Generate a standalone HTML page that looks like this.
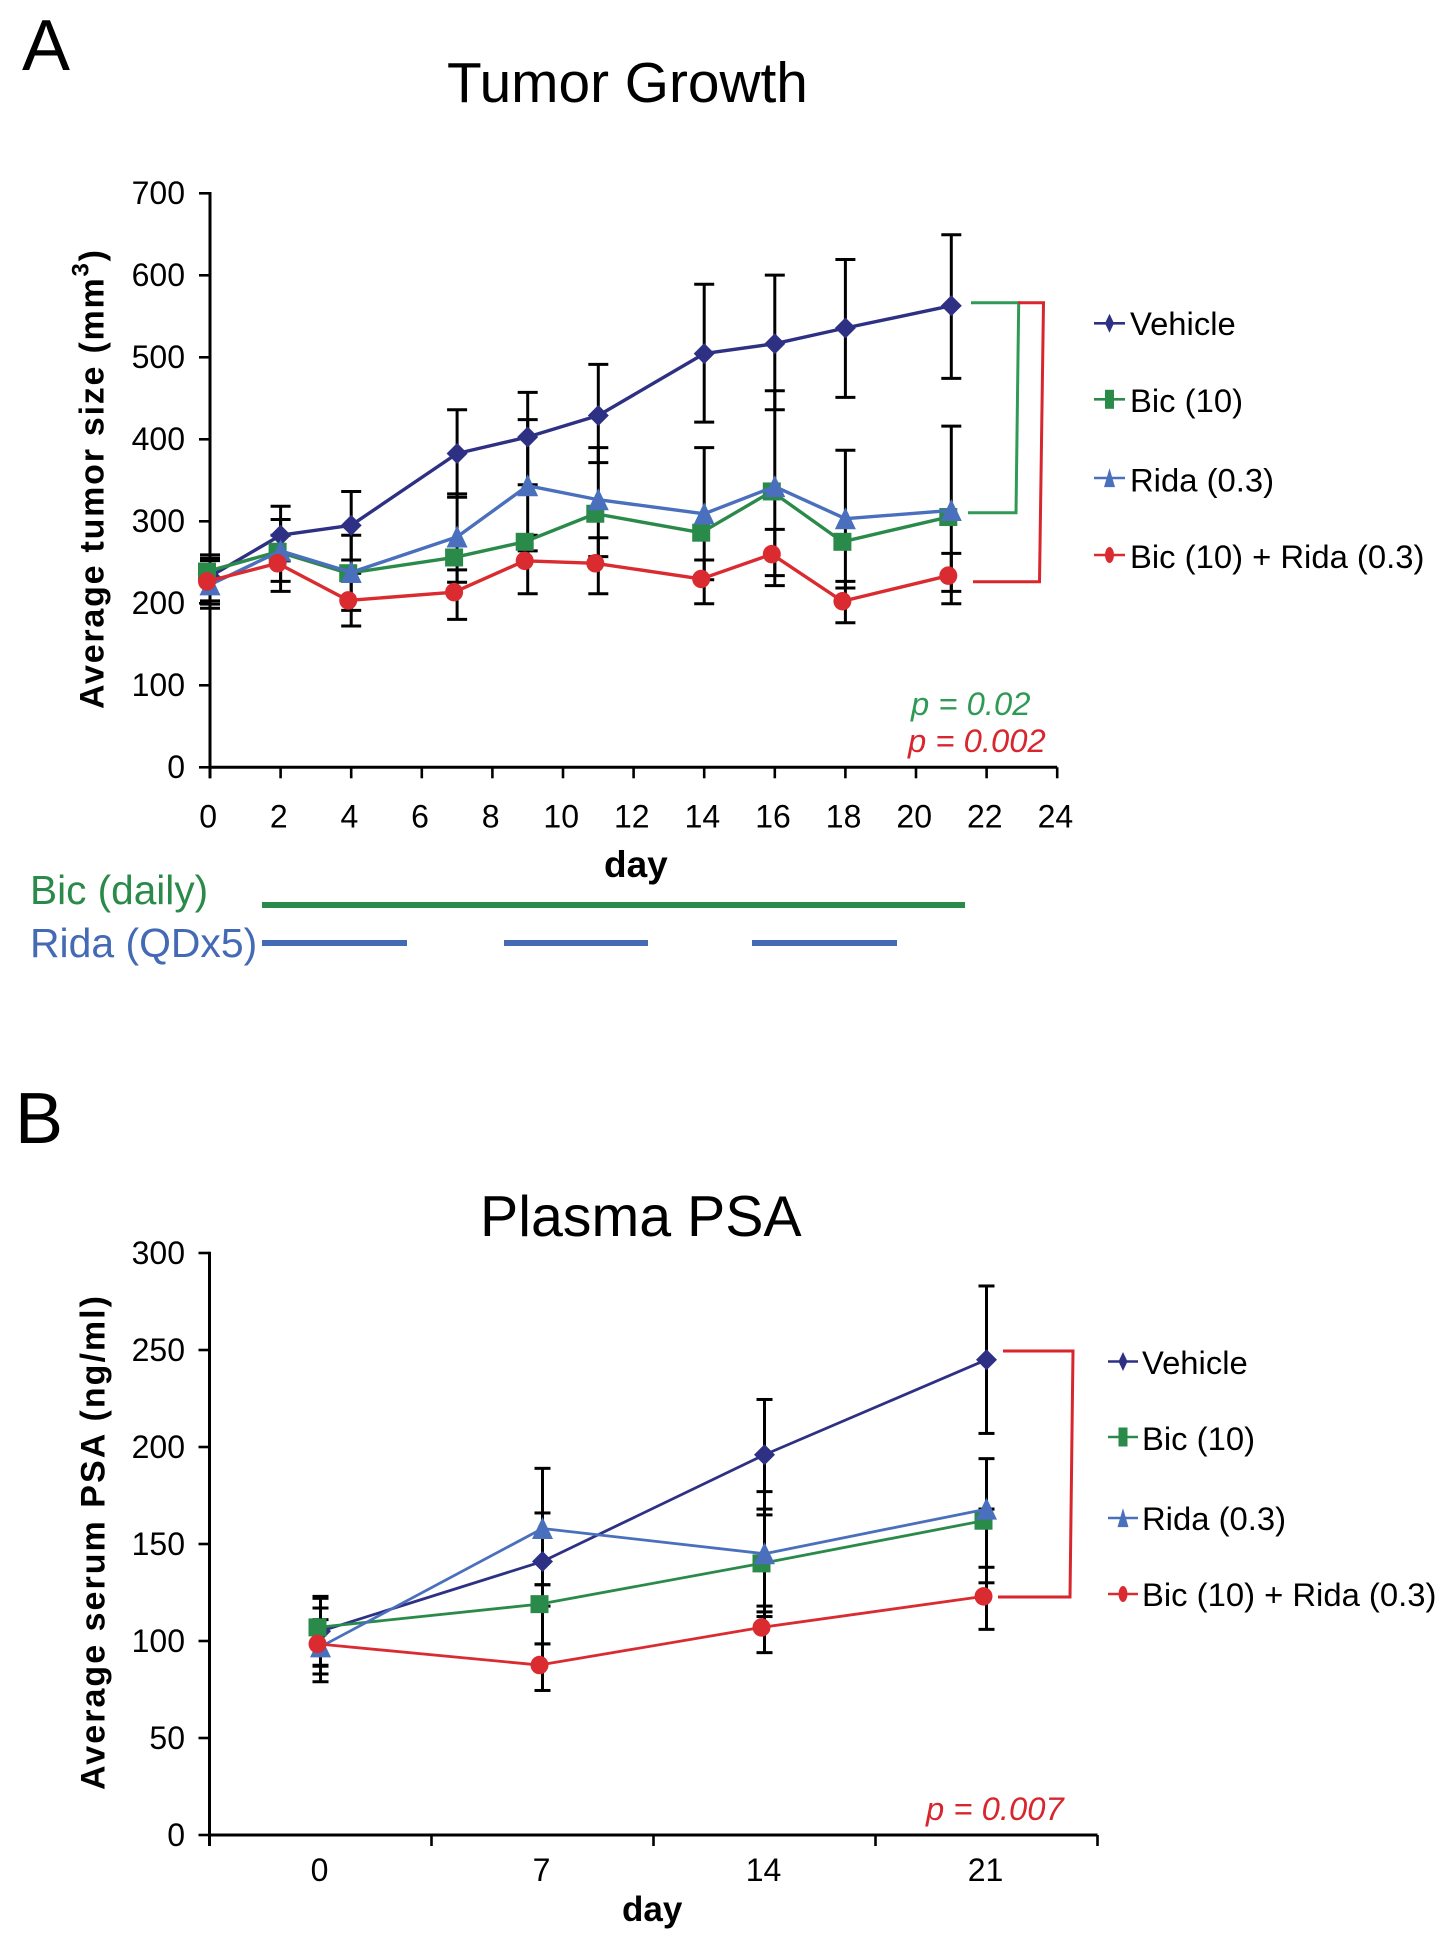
<!DOCTYPE html>
<html lang="en">
<head>
<meta charset="utf-8">
<title>Tumor Growth and Plasma PSA</title>
<style>
html,body{margin:0;padding:0;background:#fff;width:1453px;height:1948px;overflow:hidden}
svg{display:block}
text{font-family:"Liberation Sans",Arial,sans-serif;fill:#000}
</style>
</head>
<body>
<svg id="figure" xmlns="http://www.w3.org/2000/svg" width="1453" height="1948" viewBox="0 0 1453 1948">
  <rect width="1453" height="1948" fill="#fff"/>

  <text x="22" y="70" font-size="72">A</text>
  <text x="447" y="102" font-size="56.8">Tumor Growth</text>
  <text transform="translate(103.5,709) rotate(-90)" font-size="34" font-weight="bold" textLength="459" lengthAdjust="spacing">Average tumor size (mm<tspan dy="-15" font-size="24">3</tspan><tspan dy="15">)</tspan></text>
  <text x="604" y="877" font-size="37" font-weight="bold">day</text>
  <text x="911" y="715" font-size="32.8" font-style="italic" style="fill:#2f9a55">p = 0.02</text>
  <text x="908" y="752" font-size="32.8" font-style="italic" style="fill:#d8262e">p = 0.002</text>

  <polyline points="971,302.7 1018.7,302.7 1016,512.7 968,512.7" fill="none" stroke="#2f9a55" stroke-width="3"/>
  <polyline points="1018,302.7 1043.5,302.7 1039.5,581.7 973,581.7" fill="none" stroke="#d8262e" stroke-width="3"/>

  <text x="30" y="904" font-size="40.6" style="fill:#2a8a4a">Bic (daily)</text>
  <text x="30" y="957" font-size="40.9" style="fill:#4469b5">Rida (QDx5)</text>
  <rect x="262" y="902" width="703" height="6" fill="#2a8a4a"/>
  <rect x="262" y="940" width="145" height="6" fill="#4469b5"/>
  <rect x="504" y="940" width="144" height="6" fill="#4469b5"/>
  <rect x="752" y="940" width="145" height="6" fill="#4469b5"/>

  <text x="15" y="1143" font-size="72">B</text>
  <text x="480" y="1236" font-size="57.3">Plasma PSA</text>
  <text transform="translate(104.5,1790) rotate(-90)" font-size="34" font-weight="bold" textLength="494" lengthAdjust="spacing">Average serum PSA (ng/ml)</text>
  <text x="622" y="1921" font-size="35" font-weight="bold">day</text>
  <text x="926" y="1820" font-size="32.8" font-style="italic" style="fill:#d8262e">p = 0.007</text>
  <polyline points="1003,1351 1073,1351 1070,1597 998,1597" fill="none" stroke="#d8262e" stroke-width="3"/>

  <g id="chart-a"></g>
  <g id="chart-b"></g>
</svg>

<script>
// ---------- Panel A: tumor growth ----------
const tumorDays = [0, 2, 4, 7, 9, 11, 14, 16, 18, 21];
const tumorXTicks = [0, 2, 4, 6, 8, 10, 12, 14, 16, 18, 20, 22, 24];
const tumorYTicks = [0, 100, 200, 300, 400, 500, 600, 700];

const tumorVehicle = [232.7, 283, 295.1, 382.7, 402.8, 429, 504.5, 516.6, 535.7, 562.9];
const tumorBic = [238.7, 262.9, 236.7, 255.9, 275, 309.2, 286.1, 336.4, 275, 305.2];
const tumorRida = [222.6, 263.9, 237.7, 281, 343.4, 326.3, 309.2, 342.4, 303.2, 313.2];
const tumorCombo = [226.7, 248.8, 203.5, 213.6, 251.8, 248.8, 229.7, 259.9, 202.5, 233.7];

const tumorVehicleHigh = [259, 318.3, 336.4, 436, 457.2, 491.4, 589.1, 600.2, 619.3, 649.5];
const tumorVehicleLow = [203, 251.8, 252.8, 329.4, 344.5, 371.6, 421, 436, 451.2, 474.3];
const tumorRidaHigh = [255, 302.2, 283, 333.4, 424, 389.8, 389.8, 459.2, 386.7, 416];
const tumorRidaLow = [194, 226.7, 191.4, 225.7, 263.9, 256.9, 228.7, 221.6, 218.6, 214.6];
const tumorComboHigh = [252, 283, 236.7, 240.8, 283, 280, 252.8, 290.1, 226.7, 260.9];
const tumorComboLow = [199, 214.6, 172.3, 180.4, 211.6, 211.6, 199.5, 233.7, 176.3, 199.5];

// ---------- Panel B: plasma PSA ----------
const psaDays = ["0", "7", "14", "21"];
const psaYTicks = [0, 50, 100, 150, 200, 250, 300];

const psaVehicle = [105, 141, 196, 245];
const psaBic = [107, 119, 140, 162];
const psaRida = [97, 158, 145, 168];
const psaCombo = [98.5, 87.6, 107, 123];

const psaVehicleHigh = [123, 166, 224.5, 283];
const psaVehicleLow = [87, 118, 168, 207];
const psaBicHigh = [122, 129, 165, 194];
const psaBicLow = [87.5, 98.5, 115, 130];
const psaRidaHigh = [117, 189, 177, 168];
const psaRidaLow = [83, 129, 112.6, 168];
const psaComboHigh = [111, 98.5, 118, 138];
const psaComboLow = [79, 74.5, 94, 106];

// ---------- Series names ----------
const seriesLabels = ["Vehicle", "Bic (10)", "Rida (0.3)", "Bic (10) + Rida (0.3)"];

const NS = "http://www.w3.org/2000/svg";
const colors = { vehicle: "#2e3084", bic: "#2a8a4a", rida: "#4a6fbc", combo: "#d92b30" };
const shapes = { vehicle: "diamond", bic: "square", rida: "triangle", combo: "circle" };
const xShift = { vehicle: 0, bic: -3, rida: 0, combo: -3 };
const seriesKeys = ["vehicle", "bic", "rida", "combo"];

function make(parent, tag, attrs) {
  const node = document.createElementNS(NS, tag);
  Object.keys(attrs).forEach(function (k) { node.setAttribute(k, attrs[k]); });
  parent.appendChild(node);
  return node;
}

// axis functions
function tumorX(day) { return 210 + day * 35.3; }
function tumorY(value) { return 767.3 - value * 0.82; }
function psaBoundaryX(i) { return 209.5 + i * 222; }
function psaX(i) { return psaBoundaryX(i + 0.5); }
function psaY(value) { return 1835 - value * 1.94; }

function drawMarker(parent, key, cx, cy, sw, sh) {
  const fill = colors[key];
  let m;
  if (shapes[key] === "diamond") {
    m = make(parent, "polygon", { points: [cx, cy - sh / 2, cx + sw / 2, cy, cx, cy + sh / 2, cx - sw / 2, cy].join(" "), fill: fill });
  } else if (shapes[key] === "square") {
    m = make(parent, "rect", { x: cx - sw / 2, y: cy - sh / 2, width: sw, height: sh, fill: fill });
  } else if (shapes[key] === "triangle") {
    m = make(parent, "polygon", { points: [cx, cy - sh * 0.52, cx + sw / 2, cy + sh * 0.48, cx - sw / 2, cy + sh * 0.48].join(" "), fill: fill });
  } else {
    m = make(parent, "ellipse", { cx: cx, cy: cy, rx: sw / 2, ry: sh / 2, fill: fill });
  }
  
  
}

function drawErrorBar(parent, key, x, yHigh, yLow, capHalf) {
  const stem = make(parent, "line", { x1: x, x2: x, y1: yHigh, y2: yLow, stroke: "#000", "stroke-width": 3 });
  
  
  [yHigh, yLow].forEach(function (y) {
    const cap = make(parent, "line", { x1: x - capHalf, x2: x + capHalf, y1: y, y2: y, stroke: "#000", "stroke-width": 3 });
    
    
  });
}

function drawSeries(parent, key, xs, ys, lineWidth) {
  const pts = xs.map(function (x, i) { return (x + xShift[key]) + "," + ys[i]; }).join(" ");
  const line = make(parent, "polyline", { points: pts, fill: "none", stroke: colors[key], "stroke-width": lineWidth, "stroke-linejoin": "round" });
  
  
  xs.forEach(function (x, i) {
    const w = key === "bic" ? 18 : key === "combo" ? 18 : key === "rida" ? 21 : 21;
    const h = key === "bic" ? 18 : key === "combo" ? 18.5 : key === "rida" ? 22 : 21;
    drawMarker(parent, key, x + xShift[key], ys[i], w, h);
  });
}

function drawText(parent, x, y, str, size, anchor) {
  const t = make(parent, "text", { x: x, y: y, "font-size": size, "text-anchor": anchor });
  t.textContent = str;
  return t;
}

function drawLegend(parent, lineX1, lineX2, textX, lineYs, baseYs) {
  seriesKeys.forEach(function (key, i) {
    const entry = make(parent, "g", {});
    
    
    const l = make(entry, "line", { x1: lineX1, x2: lineX2, y1: lineYs[i], y2: lineYs[i], stroke: colors[key], "stroke-width": 2.6 });
    
    
    drawMarker(entry, key, (lineX1 + lineX2) / 2, lineYs[i], key === "rida" ? 11 : 9, key === "combo" ? 16 : 19);
    const t = drawText(entry, textX, baseYs[i], seriesLabels[i], 32.8, "start");
    
    
  });
}

function axisLine(parent, x1, y1, x2, y2, name) {
  const a = make(parent, "line", { x1: x1, y1: y1, x2: x2, y2: y2, stroke: "#000", "stroke-width": 3 });
  
  
}

function tickLine(parent, x1, y1, x2, y2) {
  const a = make(parent, "line", { x1: x1, y1: y1, x2: x2, y2: y2, stroke: "#000", "stroke-width": 2.6 });
  
  
}

// ---------- Draw panel A ----------
(function () {
  const g = document.getElementById("chart-a");
  axisLine(g, tumorX(0), tumorY(700) - 1.3, tumorX(0), tumorY(0) + 11, "tumor-y-axis");
  axisLine(g, tumorX(0), tumorY(0), tumorX(24), tumorY(0), "tumor-x-axis");
  tumorYTicks.forEach(function (v) {
    tickLine(g, tumorX(0) - 11, tumorY(v), tumorX(0), tumorY(v));
    const t = drawText(g, 185, tumorY(v) + 10.5, String(v), 32, "end");
    
    
  });
  tumorXTicks.forEach(function (v) {
    tickLine(g, tumorX(v), tumorY(0), tumorX(v), tumorY(0) + 11);
    const t = drawText(g, tumorX(v) - 1.8, 827.5, String(v), 32, "middle");
    
    
  });
  const xs = tumorDays.map(tumorX);
  tumorDays.forEach(function (d, i) {
    drawErrorBar(g, "vehicle", tumorX(d), tumorY(tumorVehicleHigh[i]), tumorY(tumorVehicleLow[i]), 10);
    drawErrorBar(g, "rida", tumorX(d), tumorY(tumorRidaHigh[i]), tumorY(tumorRidaLow[i]), 10);
    drawErrorBar(g, "combo", tumorX(d), tumorY(tumorComboHigh[i]), tumorY(tumorComboLow[i]), 10);
  });
  drawSeries(g, "vehicle", xs, tumorVehicle.map(tumorY), 3.4);
  drawSeries(g, "bic", xs, tumorBic.map(tumorY), 3.4);
  drawSeries(g, "rida", xs, tumorRida.map(tumorY), 3.4);
  drawSeries(g, "combo", xs, tumorCombo.map(tumorY), 3.4);
  drawLegend(g, 1094, 1125, 1130, [323.3, 399.3, 478, 555], [335, 412, 491.5, 568]);
})();

// ---------- Draw panel B ----------
(function () {
  const g = document.getElementById("chart-b");
  axisLine(g, psaBoundaryX(0), psaY(300) - 1.3, psaBoundaryX(0), psaY(0) + 11, "psa-y-axis");
  axisLine(g, psaBoundaryX(0), psaY(0), psaBoundaryX(4), psaY(0), "psa-x-axis");
  psaYTicks.forEach(function (v) {
    tickLine(g, psaBoundaryX(0) - 11, psaY(v), psaBoundaryX(0), psaY(v));
    const t = drawText(g, 185, psaY(v) + 11, String(v), 32, "end");
    
    
  });
  for (let i = 0; i <= psaDays.length; i++) {
    tickLine(g, psaBoundaryX(i), psaY(0), psaBoundaryX(i), psaY(0) + 11);
  }
  const xs = psaDays.map(function (d, i) { return psaX(i); });
  psaDays.forEach(function (d, i) {
    const t = drawText(g, psaX(i) - 1, 1881, d, 32, "middle");
    
    
    drawErrorBar(g, "vehicle", psaX(i), psaY(psaVehicleHigh[i]), psaY(psaVehicleLow[i]), 8);
    drawErrorBar(g, "bic", psaX(i), psaY(psaBicHigh[i]), psaY(psaBicLow[i]), 8);
    drawErrorBar(g, "rida", psaX(i), psaY(psaRidaHigh[i]), psaY(psaRidaLow[i]), 8);
    drawErrorBar(g, "combo", psaX(i), psaY(psaComboHigh[i]), psaY(psaComboLow[i]), 8);
  });
  drawSeries(g, "vehicle", xs, psaVehicle.map(psaY), 2.8);
  drawSeries(g, "bic", xs, psaBic.map(psaY), 2.8);
  drawSeries(g, "rida", xs, psaRida.map(psaY), 2.8);
  drawSeries(g, "combo", xs, psaCombo.map(psaY), 2.8);
  drawLegend(g, 1108, 1138, 1142, [1361.5, 1437, 1518, 1594], [1374, 1450, 1530, 1606]);
})();
</script>
</body>
</html>
